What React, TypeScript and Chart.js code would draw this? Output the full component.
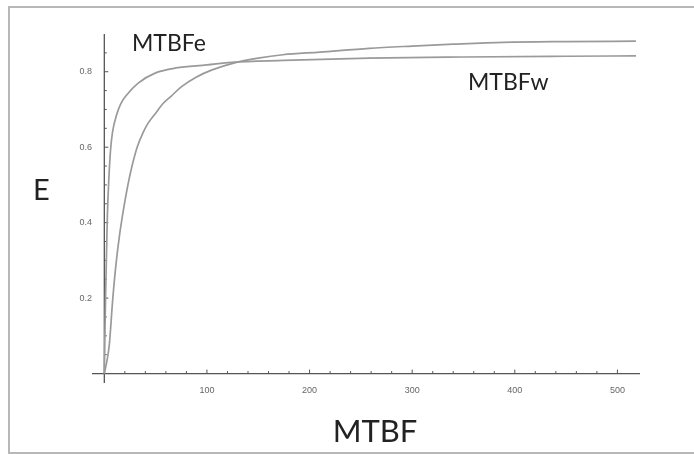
import React, { useEffect, useRef } from "react";
import { Chart, registerables } from "chart.js";

Chart.register(...registerables);

// MTBFe curve (fast rising)
const eX = [0, 0.3, 0.7, 1.2, 2, 3, 4.5, 6, 8, 12, 16, 22, 33, 50, 70, 100, 124, 175, 258, 350, 450, 518];
const eY = [0, 0.05, 0.12, 0.2, 0.3, 0.42, 0.52, 0.59, 0.64, 0.686, 0.715, 0.739, 0.77, 0.797, 0.81, 0.818, 0.825, 0.83, 0.836, 0.839, 0.841, 0.842];

// MTBFw curve (slower rising, higher plateau)
const wX = [0, 3, 5, 8, 11, 15, 19, 23, 27, 32, 38, 43, 50, 57, 65, 75, 89, 105, 126, 150, 174, 210, 258, 300, 340, 389, 450, 518];
const wY = [0, 0.04, 0.08, 0.19, 0.28, 0.37, 0.44, 0.5, 0.55, 0.6, 0.64, 0.665, 0.69, 0.715, 0.735, 0.76, 0.785, 0.805, 0.823, 0.836, 0.845, 0.852, 0.862, 0.868, 0.873, 0.878, 0.88, 0.881];

const seriesLabels = ["MTBFe", "MTBFw"];
const xTickValues = [100, 200, 300, 400, 500];
const xTickLabels = ["100", "200", "300", "400", "500"];
const yTickValues = [0.2, 0.4, 0.6, 0.8];
const yTickLabels = ["0.2", "0.4", "0.6", "0.8"];
const xTitle = "MTBF";
const yTitle = "E";

const X_MIN = -12;
const X_MAX = 522;
const Y_MIN = -0.025;
const Y_MAX = 0.9;

const axesPlugin = {
  id: "mathAxes",
  beforeDatasetsDraw(chart: any) {
    const { ctx, chartArea, scales } = chart;
    const x = scales.x;
    const y = scales.y;
    const x0 = x.getPixelForValue(0);
    const y0 = y.getPixelForValue(0);
    ctx.save();
    ctx.strokeStyle = "#555";
    ctx.lineWidth = 1.3;
    ctx.beginPath();
    ctx.moveTo(chartArea.left, y0);
    ctx.lineTo(chartArea.right, y0);
    ctx.moveTo(x0, chartArea.bottom);
    ctx.lineTo(x0, chartArea.top);
    ctx.stroke();
    ctx.lineWidth = 1;
    ctx.beginPath();
    for (let v = 20; v <= 500; v += 20) {
      const px = x.getPixelForValue(v);
      const len = v % 100 === 0 ? 4 : 2.5;
      ctx.moveTo(px, y0);
      ctx.lineTo(px, y0 - len);
    }
    for (let i = 1; i <= 17; i++) {
      const py = y.getPixelForValue(i * 0.05);
      const len = i % 4 === 0 ? 4 : 2.5;
      ctx.moveTo(x0, py);
      ctx.lineTo(x0 + len, py);
    }
    ctx.stroke();
    ctx.restore();
  },
};

const textPlugin = {
  id: "texts",
  afterDraw(chart: any) {
    const { ctx } = chart;
    ctx.save();
    ctx.fillStyle = "#222";
    ctx.textBaseline = "alphabetic";
    ctx.textAlign = "left";
    ctx.font = "23px Lato";
    ctx.fillText(seriesLabels[0], 132, 51);
    ctx.fillText(seriesLabels[1], 468, 90);
    ctx.font = "29px Lato";
    ctx.fillText(yTitle, 33, 200);
    ctx.textAlign = "center";
    ctx.font = "31px Lato";
    ctx.fillText(xTitle, 375, 442);
    ctx.restore();
  },
};

export default function App() {
  const ref = useRef<HTMLCanvasElement | null>(null);
  useEffect(() => {
    if (!ref.current) return;
    const chart = new Chart(ref.current, {
      type: "line",
      data: {
        datasets: [
          {
            label: seriesLabels[0],
            data: eX.map((v, i) => ({ x: v, y: eY[i] })),
            borderColor: "#9a9a9a",
            borderWidth: 1.7,
            pointRadius: 0,
            fill: false,
            cubicInterpolationMode: "monotone",
          },
          {
            label: seriesLabels[1],
            data: wX.map((v, i) => ({ x: v, y: wY[i] })),
            borderColor: "#9a9a9a",
            borderWidth: 1.7,
            pointRadius: 0,
            fill: false,
            cubicInterpolationMode: "monotone",
          },
        ],
      },
      options: {
        animation: false,
        responsive: false,
        devicePixelRatio: 1,
        layout: { padding: { left: 62, right: 54, top: 34, bottom: 51 } },
        plugins: { legend: { display: false }, tooltip: { enabled: false } },
        scales: {
          x: {
            type: "linear",
            min: X_MIN,
            max: X_MAX,
            grid: { display: false, drawTicks: false },
            border: { display: false },
            afterFit: (s: any) => {
              s.height = 20;
            },
            afterBuildTicks: (s: any) => {
              s.ticks = xTickValues.map((v) => ({ value: v }));
            },
            ticks: {
              padding: 2,
              maxRotation: 0,
              autoSkip: false,
              color: "#666",
              font: { family: "Liberation Sans", size: 9 },
              callback: (v: any) => {
                const i = xTickValues.indexOf(Number(v));
                return i >= 0 ? xTickLabels[i] : "";
              },
            },
          },
          y: {
            type: "linear",
            min: Y_MIN,
            max: Y_MAX,
            grid: { display: false, drawTicks: false },
            border: { display: false },
            afterFit: (s: any) => {
              s.width = 30;
            },
            afterBuildTicks: (s: any) => {
              s.ticks = yTickValues.map((v) => ({ value: v }));
            },
            ticks: {
              padding: 0,
              autoSkip: false,
              color: "#666",
              font: { family: "Liberation Sans", size: 9 },
              callback: (v: any) => {
                const i = yTickValues.findIndex((t) => Math.abs(t - Number(v)) < 1e-9);
                return i >= 0 ? yTickLabels[i] : "";
              },
            },
          },
        },
      },
      plugins: [axesPlugin, textPlugin],
    } as any);
    return () => chart.destroy();
  }, []);
  return (
    <div style={{ position: "fixed", left: 0, top: 0, width: 694, height: 454, background: "#fff", overflow: "hidden" }}>
      <div
        style={{
          position: "absolute",
          left: 8,
          top: 6,
          width: 720,
          height: 448,
          boxSizing: "border-box",
          border: "2px solid #b8b8b8",
        }}
      />
      <canvas ref={ref} width={694} height={454} style={{ position: "absolute", left: 0, top: 0, display: "block" }} />
    </div>
  );
}
